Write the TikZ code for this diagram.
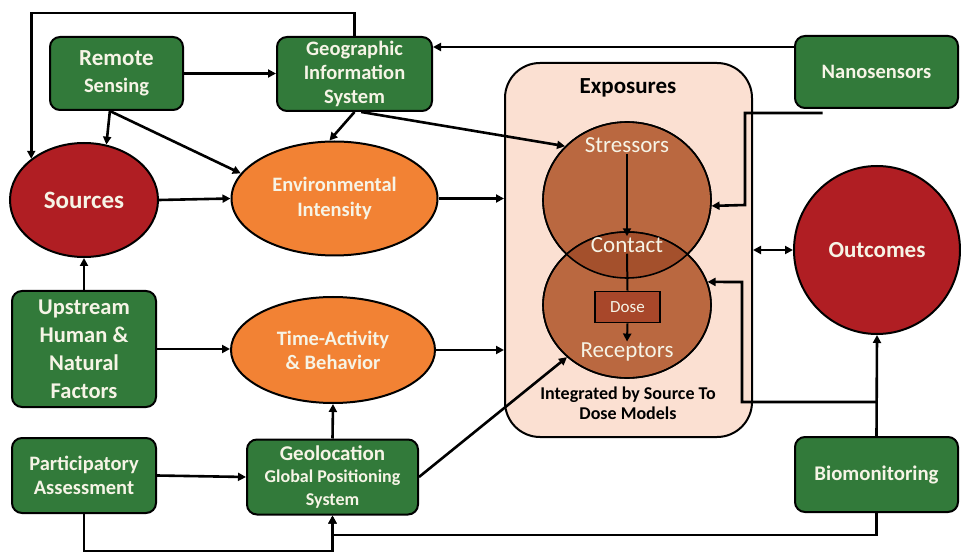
\documentclass[tikz,border=0pt]{standalone}
\usepackage{fontspec}
\setmainfont{Carlito}
\usetikzlibrary{arrows.meta,shapes.geometric,calc}
\definecolor{gbox}{RGB}{50,122,58}
\definecolor{redc}{RGB}{176,30,35}
\definecolor{orng}{RGB}{242,130,52}
\definecolor{peach}{RGB}{251,224,210}
\definecolor{brwn}{RGB}{186,104,64}
\definecolor{brwnd}{RGB}{164,80,44}
\definecolor{dosec}{RGB}{168,71,42}
\definecolor{cream}{RGB}{246,244,230}
\begin{document}
\begin{tikzpicture}[x=1pt,y=-1pt,
  gboxs/.style={draw=black,line width=2pt,fill=gbox,rounded corners=10pt,text=cream,align=center,inner sep=0pt},
  ellr/.style={ellipse,draw=black,line width=2pt,fill=redc,text=cream,align=center,inner sep=0pt},
  ello/.style={ellipse,draw=black,line width=2pt,fill=orng,text=cream,align=center,inner sep=0pt},
  circb/.style={ellipse,draw=black,line width=1.6pt,fill=brwn,inner sep=0pt},
  lbl/.style={text=cream,inner sep=1pt},
  arr/.style={line width=2.6pt,-{Triangle[length=8pt,width=8pt]}},
  arrb/.style={line width=2.6pt,{Triangle[length=8pt,width=8pt]}-{Triangle[length=8pt,width=8pt]}}]
\useasboundingbox (0,0) rectangle (961,553);
% exposures container
\node[draw=black,line width=2pt,fill=peach,rounded corners=35pt,minimum width=247pt,minimum height=374pt] (exp) at (628.5,250) {};
\node[font=\bfseries\fontsize{23}{26}\selectfont] (expt) at (628,88) {Exposures};
% circles
\node[circb,minimum width=168pt,minimum height=156pt] (stress) at (627,200) {};
\node[circb,minimum width=168pt,minimum height=146pt] (recep) at (627,305) {};
\begin{scope}
\clip (627,200) ellipse [x radius=84,y radius=78];
\fill[brwnd] (627,305) ellipse [x radius=84,y radius=73];
\end{scope}
\draw[line width=1.6pt] (627,200) ellipse [x radius=84,y radius=78];
\draw[line width=1.6pt] (627,305) ellipse [x radius=84,y radius=73];
\node[lbl,font=\fontsize{23}{26}\selectfont] (stxt) at (627,145) {Stressors};
\node[lbl,font=\fontsize{23}{26}\selectfont] (ctxt) at (627,245) {Contact};
\node[draw=black,line width=1.6pt,fill=dosec,text=cream,minimum width=65pt,minimum height=31pt,inner sep=0pt,font=\fontsize{17}{19}\selectfont] (dose) at (627.5,307) {Dose};
\node[lbl,font=\fontsize{23}{26}\selectfont] (rtxt) at (627,352) {Receptors};
\node[font=\bfseries\fontsize{18}{20}\selectfont,align=center] (integ) at (628,403) {Integrated by Source To\\Dose Models};
\draw[arr,line width=2pt] (stxt.south) -- (ctxt.north);
\draw[line width=2pt] (ctxt.south) -- (dose.north);
\draw[arr,line width=2pt] (dose.south) -- (rtxt.north);
% green boxes
\node[gboxs,minimum width=133pt,minimum height=73pt,font=\bfseries\fontsize{23}{27}\selectfont] (rs) at (116.5,73.5) {Remote\\{\fontsize{20.5}{27}\selectfont Sensing}};
\node[gboxs,minimum width=155pt,minimum height=74pt,font=\bfseries\fontsize{20.5}{24}\selectfont] (gis) at (354.5,74) {Geographic\\Information\\System};
\node[gboxs,minimum width=163pt,minimum height=72pt,font=\bfseries\fontsize{20.5}{24}\selectfont] (nano) at (876.5,72) {Nanosensors};
\node[gboxs,minimum width=144pt,minimum height=116pt,font=\bfseries\fontsize{22.5}{28}\selectfont] (up) at (84,349) {Upstream\\Human \&\\Natural\\Factors};
\node[gboxs,minimum width=144pt,minimum height=75pt,font=\bfseries\fontsize{20.5}{24}\selectfont] (part) at (84,475.5) {Participatory\\Assessment};
\node[gboxs,minimum width=171pt,minimum height=75pt,font=\bfseries\fontsize{21}{22.5}\selectfont] (geo) at (332.5,477) {Geolocation\\{\fontsize{18}{22.5}\selectfont Global Positioning}\\{\fontsize{18}{22.5}\selectfont System}};
\node[gboxs,minimum width=163pt,minimum height=75pt,font=\bfseries\fontsize{20.8}{24}\selectfont] (bio) at (876.5,474.5) {Biomonitoring};
% ellipses
\node[ellr,minimum width=148pt,minimum height=114pt,font=\bfseries\fontsize{25}{28}\selectfont] (src) at (84,200) {Sources};
\node[ello,minimum width=206pt,minimum height=114pt,font=\bfseries\fontsize{20.5}{25}\selectfont] (env) at (334.5,198.5) {Environmental\\Intensity};
\node[ello,minimum width=204pt,minimum height=106pt,font=\bfseries\fontsize{20.5}{24}\selectfont] (ta) at (333,350) {Time-Activity\\\& Behavior};
\node[ellr,minimum width=166pt,minimum height=168pt,font=\bfseries\fontsize{23}{26}\selectfont] (out) at (877,250) {Outcomes};
% connectors
\draw[arr] (gis.north) -- (gis.north |- 0,13) -| (src.142);
\draw[arr] (rs.east) -- (gis.west |- rs.east);
\draw[arr] (rs.-100) -- (src.68);
\draw[arr] (rs.-100) -- (env.165);
\draw[arr] (gis.south) -- (env.95);
\draw[arr] (gis.-80) -- (stress.139);
\draw[arr] (src.east) -- (env.west);
\draw[arr] (env.east) -- (env.east -| exp.west);
\draw[arr] ([yshift=25pt]nano.west) -- ([yshift=25pt]nano.west -| gis.east);
\draw[arr] ([xshift=-54pt,yshift=-4pt]nano.south) -| (745,205) -- (stress.-4);
\draw[arrb] (exp.east |- out.west) -- (out.west);
\draw[arr] (bio.north) -- (out.south);
\draw[arr] (out.south |- 0,402) -| (742,282) -- (recep.16);
\draw[arr] (bio.south) -- ++(0,22) -| (geo.south);
\draw[arr] (part.south) -- ++(0,37) -| (geo.south);
\draw[arr] (part.east) -- (geo.west);
\draw[arr] (up.north) -- (src.south);
\draw[arr] (up.east) -- (up.east -| ta.west);
\draw[arr] (ta.east) -- (ta.east -| exp.west);
\draw[arr] (geo.north) -- (ta.south);
\draw[arr] (geo.east) -- (recep.221);
\end{tikzpicture}
\end{document}
